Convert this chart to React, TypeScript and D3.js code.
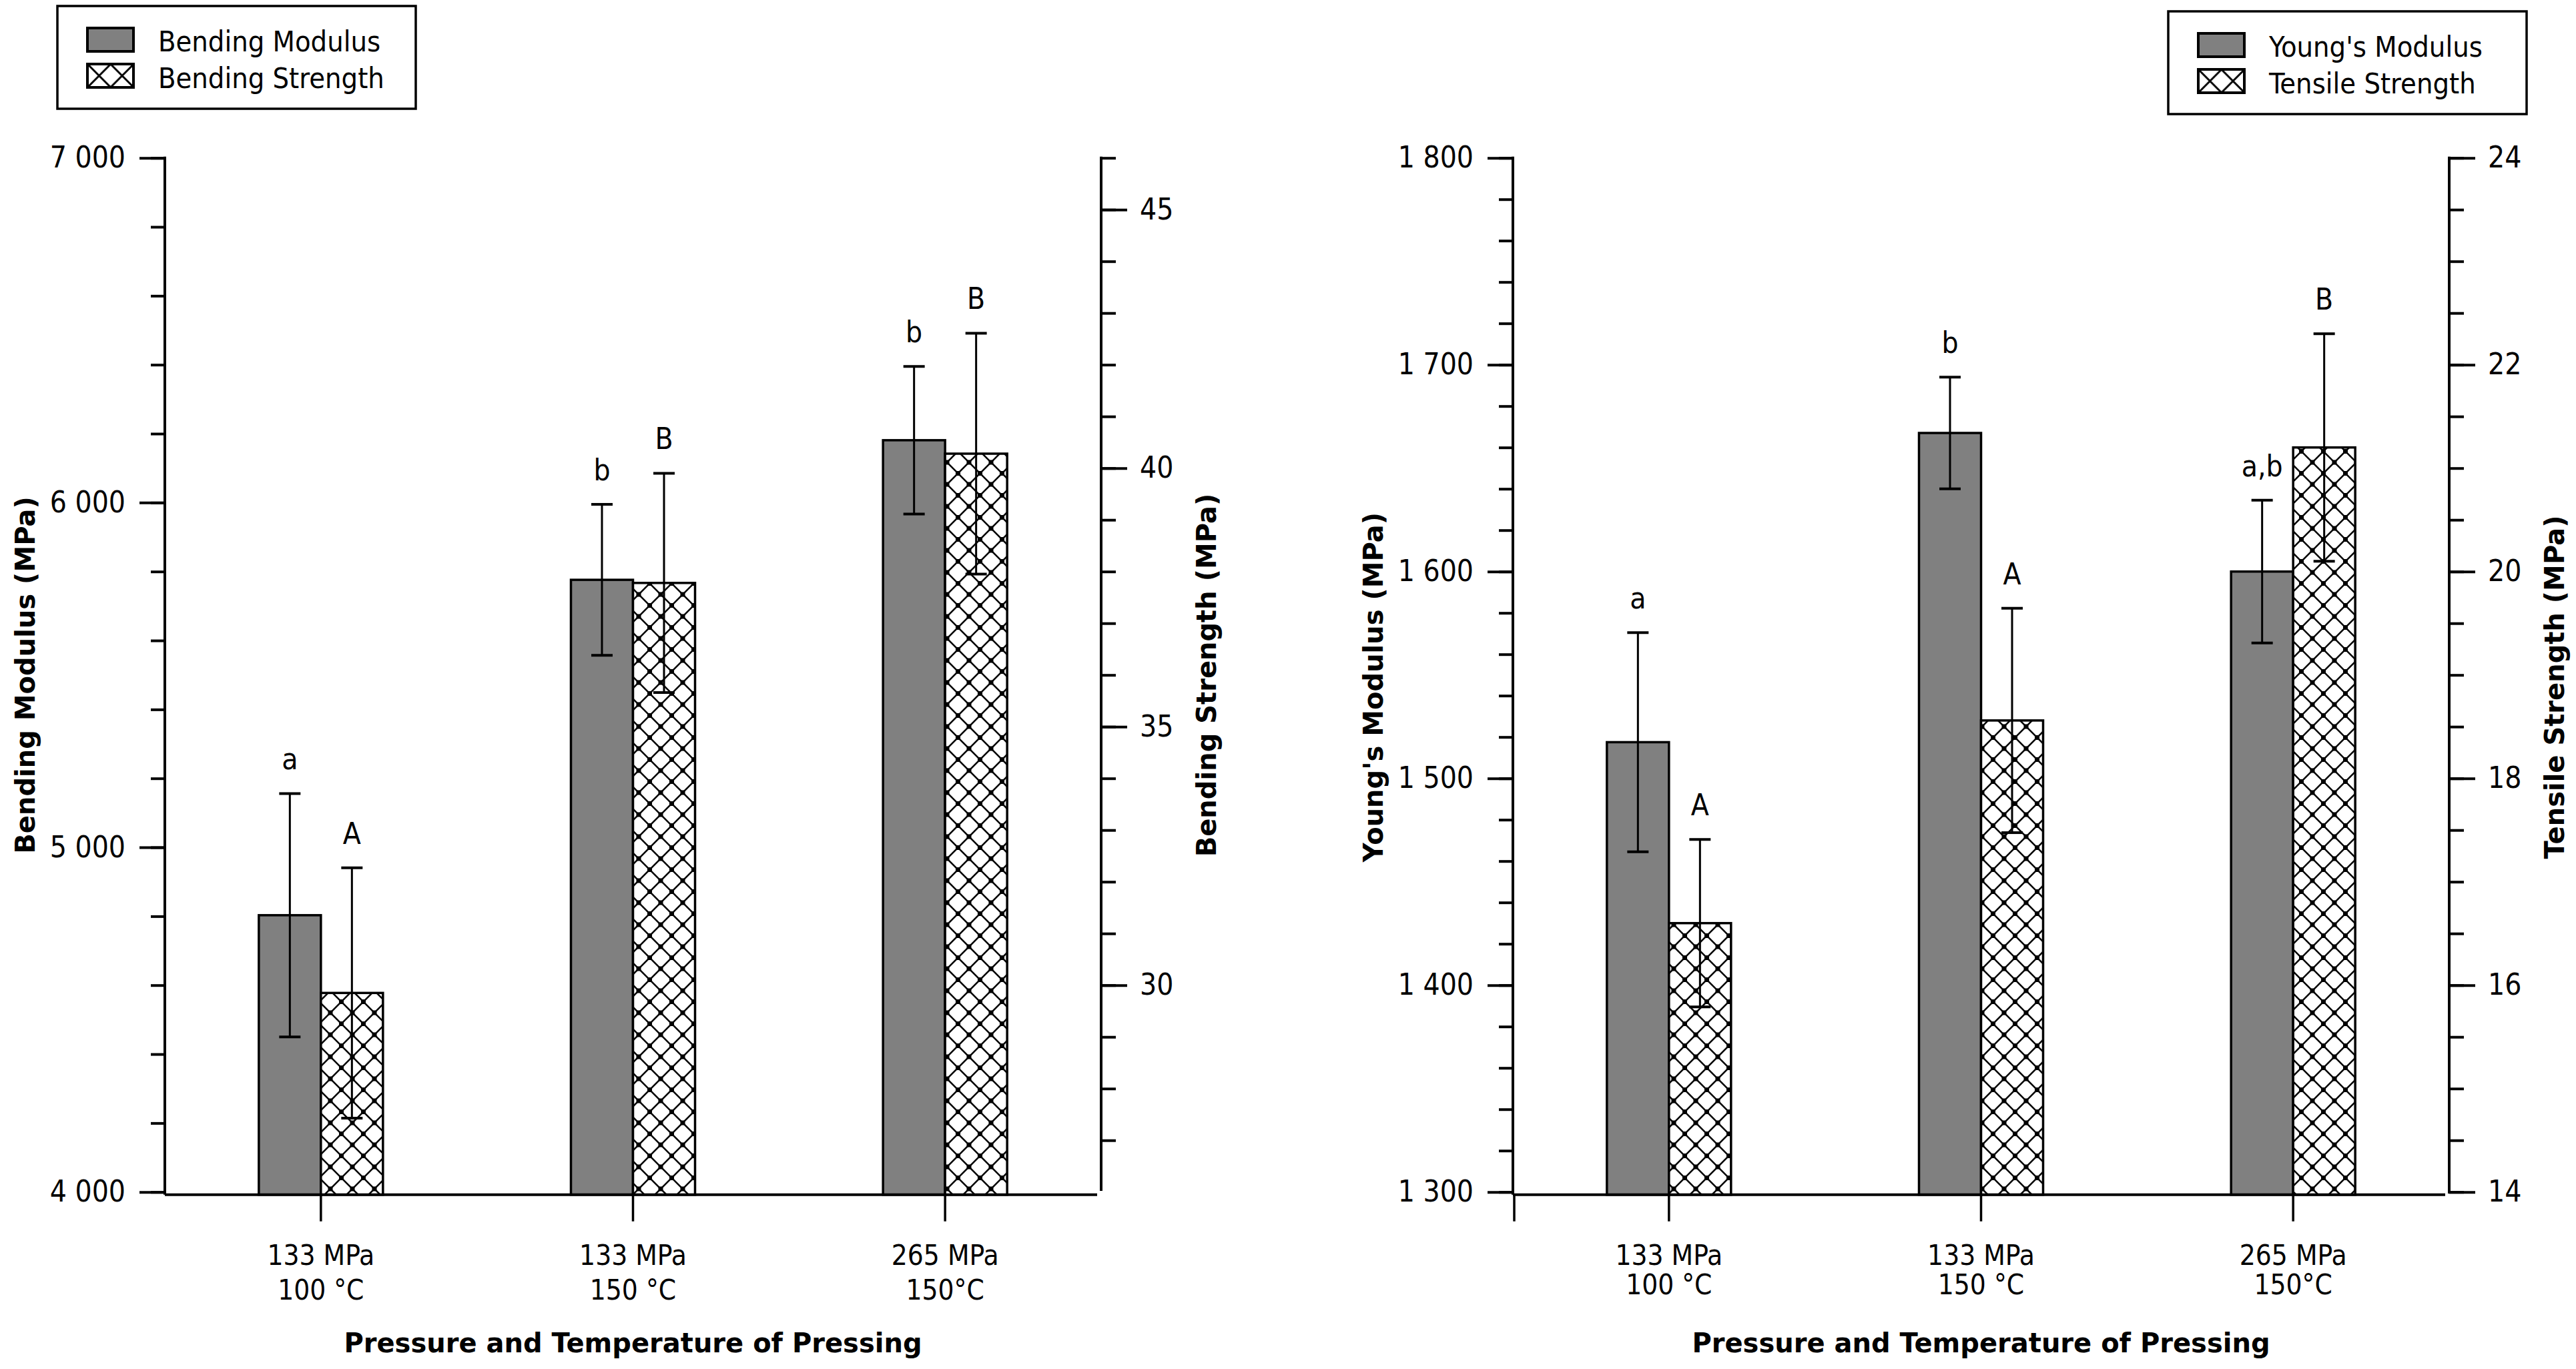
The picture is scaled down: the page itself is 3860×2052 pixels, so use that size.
import * as d3 from "d3";
import { useRef, useEffect } from "react";

// categories (two-line tick labels)
const categories = [
  ["133 MPa", "100 °C"],
  ["133 MPa", "150 °C"],
  ["265 MPa", "150°C"],
];

// left panel: bending
const bendingModulus = [4803, 5776, 6181];
const bendingModulusErr = [353, 219, 214];
const bendingModulusLetters = ["a", "b", "b"];
const bendingStrength = [29.85, 37.78, 40.28];
const bendingStrengthErr = [2.42, 2.12, 2.33];
const bendingStrengthLetters = ["A", "B", "B"];

// right panel: tensile
const youngsModulus = [1517.5, 1667, 1600];
const youngsModulusErr = [53, 27, 34.5];
const youngsModulusLetters = ["a", "b", "a,b"];
const tensileStrength = [16.6, 18.56, 21.2];
const tensileStrengthErr = [0.81, 1.085, 1.1];
const tensileStrengthLetters = ["A", "A", "B"];

// axis ticks
const bendingModulusTicks = [4000, 5000, 6000, 7000];
const bendingModulusMinor = d3.range(4000, 7001, 200);
const bendingStrengthTicks = [30, 35, 40, 45];
const bendingStrengthMinor = d3.range(27, 47, 1);
const youngsModulusTicks = [1300, 1400, 1500, 1600, 1700, 1800];
const youngsModulusMinor = d3.range(1300, 1801, 20);
const tensileStrengthTicks = [14, 16, 18, 20, 22, 24];
const tensileStrengthMinor = d3.range(14, 24.01, 0.5);

const FONT = "'DejaVu Sans Condensed', 'DejaVu Sans', sans-serif";
const BOLD_FONT = "'DejaVu Sans', sans-serif";
const GREY = "#808080";
const TOP = 236.7;
const BOTTOM = 1786.7;

type Panel = {
  x0: number;
  x1: number;
  leftDomain: [number, number];
  leftTicks: number[];
  leftMinor: number[];
  rightDomain: [number, number];
  rightTicks: number[];
  rightMinor: number[];
  rightBottom: number;
  primary: number[];
  primaryErr: number[];
  primaryLetters: string[];
  secondary: number[];
  secondaryErr: number[];
  secondaryLetters: string[];
  leftTitle: string;
  rightTitle: string;
  titleY: number;
  legend: [string, string];
  legendX: number;
  legendY: number;
  line2Y: number;
  startTick: boolean;
};

const thousands = (v: number) => d3.format(",")(v).replace(",", " ");

function drawPanel(svg: any, p: Panel) {
  const x = d3.scaleBand<number>().domain([0, 1, 2]).range([p.x0, p.x1]);
  const yL = d3.scaleLinear().domain(p.leftDomain).range([BOTTOM, TOP]);
  const yR = d3.scaleLinear().domain(p.rightDomain).range([BOTTOM, TOP]);
  const cx = (i: number) => (x(i) || 0) + x.bandwidth() / 2;
  const bw = 93;
  const base = BOTTOM + 4;

  const g = svg.append("g");

  // bars
  g.selectAll(".pbar").data(p.primary).join("rect")
    .attr("x", (_: any, i: number) => cx(i) - bw)
    .attr("y", (d: number) => yL(d))
    .attr("width", bw)
    .attr("height", (d: number) => base - yL(d))
    .attr("fill", GREY)
    .attr("stroke", "#000")
    .attr("stroke-width", 3.5);

  g.selectAll(".sbar").data(p.secondary).join("rect")
    .attr("x", (_: any, i: number) => cx(i))
    .attr("y", (d: number) => yR(d))
    .attr("width", bw)
    .attr("height", (d: number) => base - yR(d))
    .attr("fill", "url(#hatch)")
    .attr("stroke", "#000")
    .attr("stroke-width", 3.5);

  // error bars + letters
  const errs = (vals: number[], errsArr: number[], letters: string[], y: any, dx: number) => {
    vals.forEach((v, i) => {
      const ex = cx(i) + dx;
      const hi = y(v + errsArr[i]);
      const lo = y(v - errsArr[i]);
      g.append("line").attr("x1", ex).attr("x2", ex).attr("y1", hi).attr("y2", lo)
        .attr("stroke", "#000").attr("stroke-width", 3);
      [hi, lo].forEach((yy) => {
        g.append("line").attr("x1", ex - 16).attr("x2", ex + 16).attr("y1", yy).attr("y2", yy)
          .attr("stroke", "#000").attr("stroke-width", 4);
      });
      g.append("text").attr("x", ex).attr("y", hi - 36)
        .attr("text-anchor", "middle")
        .style("font", `44px ${FONT}`)
        .text(letters[i]);
    });
  };
  errs(p.primary, p.primaryErr, p.primaryLetters, yL, -bw / 2);
  errs(p.secondary, p.secondaryErr, p.secondaryLetters, yR, bw / 2);

  // left axis
  const leftMinorAxis = g.append("g").attr("transform", `translate(${p.x0},0)`)
    .call(d3.axisLeft(yL).tickValues(p.leftMinor).tickSize(21).tickSizeOuter(0).tickFormat(() => ""));
  const leftAxis = g.append("g").attr("transform", `translate(${p.x0},0)`)
    .call(d3.axisLeft(yL).tickValues(p.leftTicks).tickSize(38).tickPadding(21).tickSizeOuter(0).tickFormat((d: any) => thousands(d)));
  g.append("line").attr("x1", p.x0).attr("x2", p.x0).attr("y1", TOP - 2).attr("y2", base)
    .attr("stroke", "#000").attr("stroke-width", 4);

  // right axis
  const rightMinorAxis = g.append("g").attr("transform", `translate(${p.x1},0)`)
    .call(d3.axisRight(yR).tickValues(p.rightMinor).tickSize(22).tickSizeOuter(0).tickFormat(() => ""));
  const rightAxis = g.append("g").attr("transform", `translate(${p.x1},0)`)
    .call(d3.axisRight(yR).tickValues(p.rightTicks).tickSize(39).tickPadding(19).tickSizeOuter(0).tickFormat((d: any) => String(d)));
  g.append("line").attr("x1", p.x1).attr("x2", p.x1).attr("y1", TOP - 2).attr("y2", p.rightBottom)
    .attr("stroke", "#000").attr("stroke-width", 4);

  [leftMinorAxis, leftAxis, rightMinorAxis, rightAxis].forEach((a: any) => {
    a.select(".domain").remove();
    a.selectAll(".tick line").attr("stroke", "#000").attr("stroke-width", 4);
    a.selectAll(".tick text").attr("fill", "#000").style("font", `44px ${FONT}`);
  });

  // x baseline and ticks
  g.append("line").attr("x1", p.x0).attr("x2", p.x1 - 6).attr("y1", base).attr("y2", base)
    .attr("stroke", "#000").attr("stroke-width", 4);
  if (p.startTick) {
    g.append("line").attr("x1", p.x0 + 2).attr("x2", p.x0 + 2).attr("y1", base).attr("y2", base + 40)
      .attr("stroke", "#000").attr("stroke-width", 3.5);
  }
  categories.forEach((c, i) => {
    g.append("line").attr("x1", cx(i)).attr("x2", cx(i)).attr("y1", base).attr("y2", base + 40)
      .attr("stroke", "#000").attr("stroke-width", 3.5);
    g.append("text").attr("x", cx(i)).attr("y", 1896).attr("text-anchor", "middle")
      .style("font", `42px ${FONT}`).text(c[0]);
    g.append("text").attr("x", cx(i)).attr("y", p.line2Y).attr("text-anchor", "middle")
      .style("font", `42px ${FONT}`).text(c[1]);
  });

  // titles
  g.append("text").attr("x", (p.x0 + p.x1) / 2).attr("y", 2027).attr("text-anchor", "middle")
    .style("font", `bold 40px ${BOLD_FONT}`).text("Pressure and Temperature of Pressing");
  g.append("text").attr("transform", `translate(${p.x0 - 209},${p.titleY}) rotate(-90)`)
    .attr("text-anchor", "middle").attr("dominant-baseline", "central")
    .style("font", `bold 40px ${BOLD_FONT}`).text(p.leftTitle);
  g.append("text").attr("transform", `translate(${p.x1 + 158},${p.titleY}) rotate(-90)`)
    .attr("text-anchor", "middle").attr("dominant-baseline", "central")
    .style("font", `bold 40px ${BOLD_FONT}`).text(p.rightTitle);

  // legend
  const lg = g.append("g").attr("transform", `translate(${p.legendX},${p.legendY})`);
  lg.append("rect").attr("x", 0).attr("y", 0).attr("width", 537).attr("height", 154)
    .attr("fill", "#fff").attr("stroke", "#000").attr("stroke-width", 3.5);
  lg.append("rect").attr("x", 45).attr("y", 33).attr("width", 69).attr("height", 35)
    .attr("fill", GREY).attr("stroke", "#000").attr("stroke-width", 4);
  lg.append("rect").attr("x", 45).attr("y", 87).attr("width", 69).attr("height", 35)
    .attr("fill", "url(#hatchLegend)").attr("stroke", "#000").attr("stroke-width", 4);
  p.legend.forEach((t, i) => {
    lg.append("text").attr("x", 151).attr("y", 68 + i * 55)
      .style("font", `43px ${FONT}`).text(t);
  });
}

export default function App() {
  const ref = useRef<SVGSVGElement | null>(null);

  useEffect(() => {
    const svg = d3.select(ref.current);
    svg.selectAll("*").remove();

    const defs = svg.append("defs");
    const s = 33;
    const pat = defs.append("pattern").attr("id", "hatch").attr("patternUnits", "userSpaceOnUse")
      .attr("width", s).attr("height", s);
    pat.append("rect").attr("width", s).attr("height", s).attr("fill", "#fff");
    pat.append("path").attr("d", `M0,0L${s},${s}M${s},0L0,${s}`).attr("stroke", "#000").attr("stroke-width", 2.6);
    [[0, 0], [s, 0], [0, s], [s, s], [s / 2, s / 2]].forEach(([a, b]) => {
      pat.append("rect").attr("x", a - 3.5).attr("y", b - 3.5).attr("width", 7).attr("height", 7).attr("fill", "#000");
    });

    const ls = 35;
    const lpat = defs.append("pattern").attr("id", "hatchLegend").attr("patternUnits", "objectBoundingBox")
      .attr("width", 0.5).attr("height", 1);
    lpat.append("rect").attr("width", ls).attr("height", ls).attr("fill", "#fff");
    lpat.append("path").attr("d", `M0,0L${ls},${ls}M${ls},0L0,${ls}`).attr("stroke", "#000").attr("stroke-width", 3);

    drawPanel(svg, {
      x0: 247, x1: 1650,
      leftDomain: [4000, 7000], leftTicks: bendingModulusTicks, leftMinor: bendingModulusMinor,
      rightDomain: [26, 46], rightTicks: bendingStrengthTicks, rightMinor: bendingStrengthMinor,
      rightBottom: 1785,
      primary: bendingModulus, primaryErr: bendingModulusErr, primaryLetters: bendingModulusLetters,
      secondary: bendingStrength, secondaryErr: bendingStrengthErr, secondaryLetters: bendingStrengthLetters,
      leftTitle: "Bending Modulus (MPa)", rightTitle: "Bending Strength (MPa)",
      titleY: 1012,
      legend: ["Bending Modulus", "Bending Strength"],
      legendX: 86, legendY: 9,
      line2Y: 1948,
      startTick: false,
    });

    drawPanel(svg, {
      x0: 2267, x1: 3670,
      leftDomain: [1300, 1800], leftTicks: youngsModulusTicks, leftMinor: youngsModulusMinor,
      rightDomain: [14, 24], rightTicks: tensileStrengthTicks, rightMinor: tensileStrengthMinor,
      rightBottom: 1789,
      primary: youngsModulus, primaryErr: youngsModulusErr, primaryLetters: youngsModulusLetters,
      secondary: tensileStrength, secondaryErr: tensileStrengthErr, secondaryLetters: tensileStrengthLetters,
      leftTitle: "Young's Modulus (MPa)", rightTitle: "Tensile Strength (MPa)",
      titleY: 1030,
      legend: ["Young's Modulus", "Tensile Strength"],
      legendX: 3249, legendY: 17,
      line2Y: 1940,
      startTick: true,
    });
  }, []);

  return (
    <svg
      ref={ref}
      width={3860}
      height={2052}
      style={{ position: "absolute", left: 0, top: 0, background: "#fff" }}
    />
  );
}
